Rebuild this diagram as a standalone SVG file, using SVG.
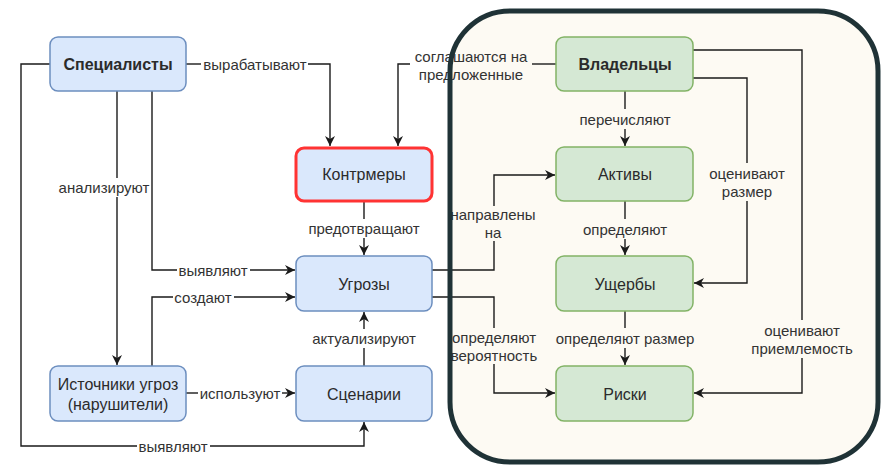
<svg xmlns="http://www.w3.org/2000/svg" width="884" height="465" viewBox="0 0 884 465">
  <style>
    .node text { font-family: "Liberation Sans", Arial, sans-serif; font-size: 16px; fill: #2b2b2b; text-anchor: middle; dominant-baseline: central; }
    .blue { fill: #dae8fc; stroke: #6c8ebf; stroke-width: 1.5; }
    .green { fill: #d5e8d4; stroke: #82b366; stroke-width: 1.5; }
    .alert { fill: #dae8fc; stroke: #ff3333; stroke-width: 3; }
    .bold { font-weight: bold; font-size: 16.5px; }
    .edge { fill: none; stroke: #1a1a1a; stroke-width: 1.4; }
    .lbl { font-family: "Liberation Sans", Arial, sans-serif; font-size: 15px; fill: #333333; text-anchor: middle; dominant-baseline: central; }
  </style>
  <defs>
    <marker id="arrow" markerUnits="userSpaceOnUse" markerWidth="12" markerHeight="12" refX="10" refY="5" orient="auto">
      <path d="M0,0 L10,5 L0,10 L3,5 z" fill="#1a1a1a"/>
    </marker>
  </defs>

  <rect width="884" height="465" fill="#ffffff"/>

  <!-- owners' area background -->
  <rect id="owners-area" x="450" y="11" width="428" height="451" rx="60" ry="60" fill="#fdfaf3"/>

  <g id="connectors">
    <!-- Специалисты → Сценарии (выявляют) -->
    <path class="edge" d="M50,64 H21 V446 H137"/>
    <path class="edge" d="M210,446 H364 V422" marker-end="url(#arrow)"/>
    <!-- Специалисты → Контрмеры (вырабатывают) -->
    <path class="edge" d="M186,64 H201"/>
    <path class="edge" d="M308,64 H330 V146" marker-end="url(#arrow)"/>
    <!-- Специалисты → Источники угроз (анализируют) -->
    <path class="edge" d="M117,91 V178"/>
    <path class="edge" d="M117,197 V365" marker-end="url(#arrow)"/>
    <!-- Специалисты → Угрозы (выявляют) -->
    <path class="edge" d="M152,91 V270 H177"/>
    <path class="edge" d="M250,270 H295" marker-end="url(#arrow)"/>
    <!-- Источники угроз → Угрозы (создают) -->
    <path class="edge" d="M152,366 V297 H173"/>
    <path class="edge" d="M234,297 H295" marker-end="url(#arrow)"/>
    <!-- Источники угроз → Сценарии (используют) -->
    <path class="edge" d="M186,393 H198"/>
    <path class="edge" d="M282,393 H295" marker-end="url(#arrow)"/>
    <!-- Сценарии → Угрозы (актуализируют) -->
    <path class="edge" d="M364,366 V348"/>
    <path class="edge" d="M364,329 V312" marker-end="url(#arrow)"/>
    <!-- Контрмеры → Угрозы (предотвращают) -->
    <path class="edge" d="M364,201 V219"/>
    <path class="edge" d="M364,238 V255" marker-end="url(#arrow)"/>
    <!-- Владельцы → Контрмеры (соглашаются на предложенные) -->
    <path class="edge" d="M556,64 H532"/>
    <path class="edge" d="M410,64 H398 V146" marker-end="url(#arrow)"/>
    <!-- Угрозы → Активы (направлены на) -->
    <path class="edge" d="M432,270 H494 V241"/>
    <path class="edge" d="M494,206 V175 H555" marker-end="url(#arrow)"/>
    <!-- Угрозы → Риски (определяют вероятность) -->
    <path class="edge" d="M432,297 H494 V328"/>
    <path class="edge" d="M494,364 V393 H555" marker-end="url(#arrow)"/>
    <!-- Владельцы → Активы (перечисляют) -->
    <path class="edge" d="M625,91 V109"/>
    <path class="edge" d="M625,129 V146" marker-end="url(#arrow)"/>
    <!-- Активы → Ущербы (определяют) -->
    <path class="edge" d="M625,201 V219"/>
    <path class="edge" d="M625,239 V255" marker-end="url(#arrow)"/>
    <!-- Ущербы → Риски (определяют размер) -->
    <path class="edge" d="M625,311 V328"/>
    <path class="edge" d="M625,348 V365" marker-end="url(#arrow)"/>
    <!-- Владельцы → Риски (оценивают приемлемость) -->
    <path class="edge" d="M693,50 H802 V320"/>
    <path class="edge" d="M802,358 V393 H694" marker-end="url(#arrow)"/>
    <!-- Владельцы → Ущербы (оценивают размер) -->
    <path class="edge" d="M693,78 H747 V163"/>
    <path class="edge" d="M747,201 V283 H694" marker-end="url(#arrow)"/>

    <!-- edge labels -->
    <text class="lbl" x="173" y="446">выявляют</text>
    <text class="lbl" x="255" y="64">вырабатывают</text>
    <text class="lbl" x="104" y="187">анализируют</text>
    <text class="lbl" x="213" y="270">выявляют</text>
    <text class="lbl" x="203" y="297">создают</text>
    <text class="lbl" x="240" y="393">используют</text>
    <text class="lbl" x="364" y="338">актуализируют</text>
    <text class="lbl" x="364" y="228">предотвращают</text>
    <text class="lbl" x="471" y="56">соглашаются на</text>
    <text class="lbl" x="471" y="74">предложенные</text>
    <text class="lbl" x="493" y="214">направлены</text>
    <text class="lbl" x="493" y="232">на</text>
    <text class="lbl" x="494" y="337">определяют</text>
    <text class="lbl" x="494" y="355">вероятность</text>
    <text class="lbl" x="625" y="119">перечисляют</text>
    <text class="lbl" x="625" y="229">определяют</text>
    <text class="lbl" x="625" y="338">определяют размер</text>
    <text class="lbl" x="802" y="330">оценивают</text>
    <text class="lbl" x="802" y="348">приемлемость</text>
    <text class="lbl" x="747" y="173">оценивают</text>
    <text class="lbl" x="747" y="191">размер</text>
  </g>

  <!-- owners' area outline -->
  <rect x="450" y="11" width="428" height="451" rx="60" ry="60" fill="none" stroke="#1f3236" stroke-width="5"/>

  <g id="specialists" class="node">
    <rect class="blue" x="50" y="37" width="136" height="54" rx="8"/>
    <text class="bold" x="118" y="64">Специалисты</text>
  </g>
  <g id="countermeasures" class="node">
    <rect class="alert" x="296" y="148" width="136" height="53" rx="8"/>
    <text x="364" y="174">Контрмеры</text>
  </g>
  <g id="threats" class="node">
    <rect class="blue" x="296" y="256" width="136" height="55" rx="8"/>
    <text x="364" y="284">Угрозы</text>
  </g>
  <g id="threat-sources" class="node">
    <rect class="blue" x="50" y="366" width="136" height="55" rx="8"/>
    <text x="118" y="384">Источники угроз</text>
    <text x="118" y="404">(нарушители)</text>
  </g>
  <g id="scenarios" class="node">
    <rect class="blue" x="296" y="366" width="136" height="55" rx="8"/>
    <text x="364" y="394">Сценарии</text>
  </g>
  <g id="owners" class="node">
    <rect class="green" x="556" y="37" width="137" height="54" rx="8"/>
    <text class="bold" x="625" y="64">Владельцы</text>
  </g>
  <g id="assets" class="node">
    <rect class="green" x="556" y="147" width="137" height="54" rx="8"/>
    <text x="625" y="174">Активы</text>
  </g>
  <g id="damages" class="node">
    <rect class="green" x="556" y="256" width="137" height="55" rx="8"/>
    <text x="625" y="284">Ущербы</text>
  </g>
  <g id="risks" class="node">
    <rect class="green" x="556" y="366" width="137" height="55" rx="8"/>
    <text x="625" y="394">Риски</text>
  </g>
</svg>
